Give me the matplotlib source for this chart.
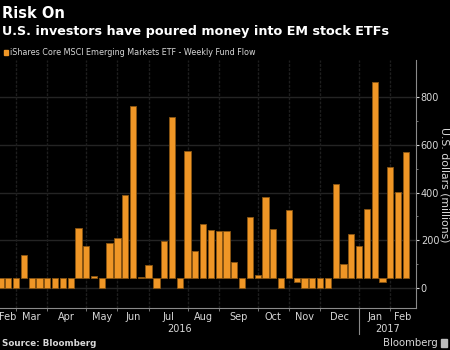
import matplotlib
matplotlib.use("Agg")
import matplotlib.pyplot as plt
from matplotlib.patches import Rectangle
import numpy as np

# Weekly fund flow, read as bar-end values on the chart's axis (U.S. $ millions)
flow_tops = [0, 0, 0, 137, 0, 0, 0, 0, 0, 0,
             253, 175, 48, 0, 186, 211, 388, 765, 46, 95,
             0, 196, 716, 0, 573, 154, 270, 244, 240, 240,
             109, 0, 298, 53, 381, 245, 0, 326, 25, 0,
             0, 0, 0, 438, 101, 224, 175, 333, 864, 25,
             507, 402, 570]
baseline = 39  # level from which the bars are drawn on this chart

month_labels = ["Feb", "Mar", "Apr", "May", "Jun", "Jul", "Aug", "Sep",
                "Oct", "Nov", "Dec", "Jan", "Feb"]
# week index where each new month starts (Mar .. Feb)
month_start_week = [2, 6, 11, 15, 19, 24, 28, 33, 37, 41, 46, 50]
year_labels = ["2016", "2017"]
year_start_week = 46
y_ticks = [0, 200, 400, 600, 800]

title = "Risk On"
subtitle = "U.S. investors have poured money into EM stock ETFs"
legend_text = "iShares Core MSCI Emerging Markets ETF - Weekly Fund Flow"
y_label = "U.S. dollars (millions)"

NARROW = ["Liberation Sans Narrow", "DejaVu Sans"]
ORANGE = "#ef9626"
EDGE = "#8a5512"
GRID = "#242424"
VGRID = "#1e1e1e"
TXT = "#d8d8d8"

fig = plt.figure(figsize=(4.5, 3.5), dpi=100, facecolor="black")
ax = fig.add_axes([0.0, 0.12, 416 / 450, 0.7086], facecolor="black")

n = len(flow_tops)
x = np.arange(n)
tops = np.array(flow_tops, dtype=float)
ax.bar(x, tops - baseline, bottom=baseline, width=0.8, color=ORANGE,
       edgecolor=EDGE, linewidth=0.6, zorder=3)

xmin, xmax = -0.06, 53.3
ax.set_xlim(xmin, xmax)
ax.set_ylim(-85, 957)

# horizontal grid
for t in y_ticks:
    ax.axhline(t, color=GRID, lw=1.0, zorder=1)
# vertical month grid
for w in month_start_week:
    ax.axvline(w, color=VGRID, lw=1.0, ls=(0, (2, 1)), zorder=1)

# spines
for s in ["top", "left"]:
    ax.spines[s].set_visible(False)
ax.spines["bottom"].set_color("#8a8a8a")
ax.spines["right"].set_color("#8a8a8a")
ax.spines["bottom"].set_linewidth(0.8)
ax.spines["right"].set_linewidth(0.8)

# y axis on right
ax.yaxis.tick_right()
ax.set_yticks(y_ticks)
ax.set_yticklabels([str(t) for t in y_ticks], fontsize=7, color=TXT,
                   family=NARROW)
ax.set_yticks(np.arange(100, 900, 200), minor=True)
ax.tick_params(axis="y", which="major", length=2.5, width=0.8, color=TXT,
               pad=1)
ax.tick_params(axis="y", which="minor", length=1.5, width=0.6, color="#888888")
fig.text(445 / 450, 1 - 185 / 350, y_label, rotation=270, fontsize=7.8,
         color=TXT, ha="center", va="center")

# x axis: month boundaries as ticks, labels centered between
ax.set_xticks(month_start_week)
ax.set_xticklabels([])
ax.tick_params(axis="x", which="major", length=2.5, width=0.6, color="#8a8a8a")
bounds = [xmin] + month_start_week + [xmax]
centers = [(bounds[i] + bounds[i + 1]) / 2 for i in range(len(bounds) - 1)]
ax.set_xticks(centers, minor=True)
ax.set_xticklabels(month_labels, minor=True, fontsize=7, color=TXT,
                   family=NARROW)
ax.tick_params(axis="x", which="minor", length=0, pad=3)

# year labels and separator
trans = ax.get_xaxis_transform()
ax.text((xmin + year_start_week) / 2, -0.085, year_labels[0], transform=trans,
        ha="center", va="center", fontsize=7, color=TXT, family=NARROW)
ax.text((year_start_week + xmax) / 2, -0.085, year_labels[1], transform=trans,
        ha="center", va="center", fontsize=7, color=TXT, family=NARROW)
ax.plot([year_start_week, year_start_week], [0, -0.105], transform=trans,
        color="#8a8a8a", lw=0.8, clip_on=False)

# titles
fig.text(2 / 450, 1 - 18.5 / 350, title, fontsize=10.5, fontweight="bold",
         color="white", family=NARROW, va="baseline")
fig.text(2 / 450, 1 - 35.5 / 350, subtitle, fontsize=9.2, fontweight="bold",
         color="white", family=NARROW, va="baseline")
fig.patches.append(Rectangle((4 / 450, 1 - 54.5 / 350), 3.5 / 450, 5 / 350,
                             transform=fig.transFigure, color=ORANGE))
fig.text(9.5 / 450, 1 - 55 / 350, legend_text, fontsize=5.8, color=TXT,
         family=NARROW, va="baseline")

# footer
fig.text(2 / 450, 1 - 346 / 350, "Source: Bloomberg", fontsize=6.3,
         fontweight="bold", color=TXT, family=NARROW, va="baseline")
fig.text(438 / 450, 1 - 346 / 350, "Bloomberg", fontsize=7.3, color=TXT,
         family=NARROW, va="baseline", ha="right")
fig.patches.append(Rectangle((441 / 450, 1 - 347 / 350), 6 / 450, 8 / 350,
                             transform=fig.transFigure, color="#bdbdbd"))

fig.savefig("out.png", dpi=100, facecolor="black")
